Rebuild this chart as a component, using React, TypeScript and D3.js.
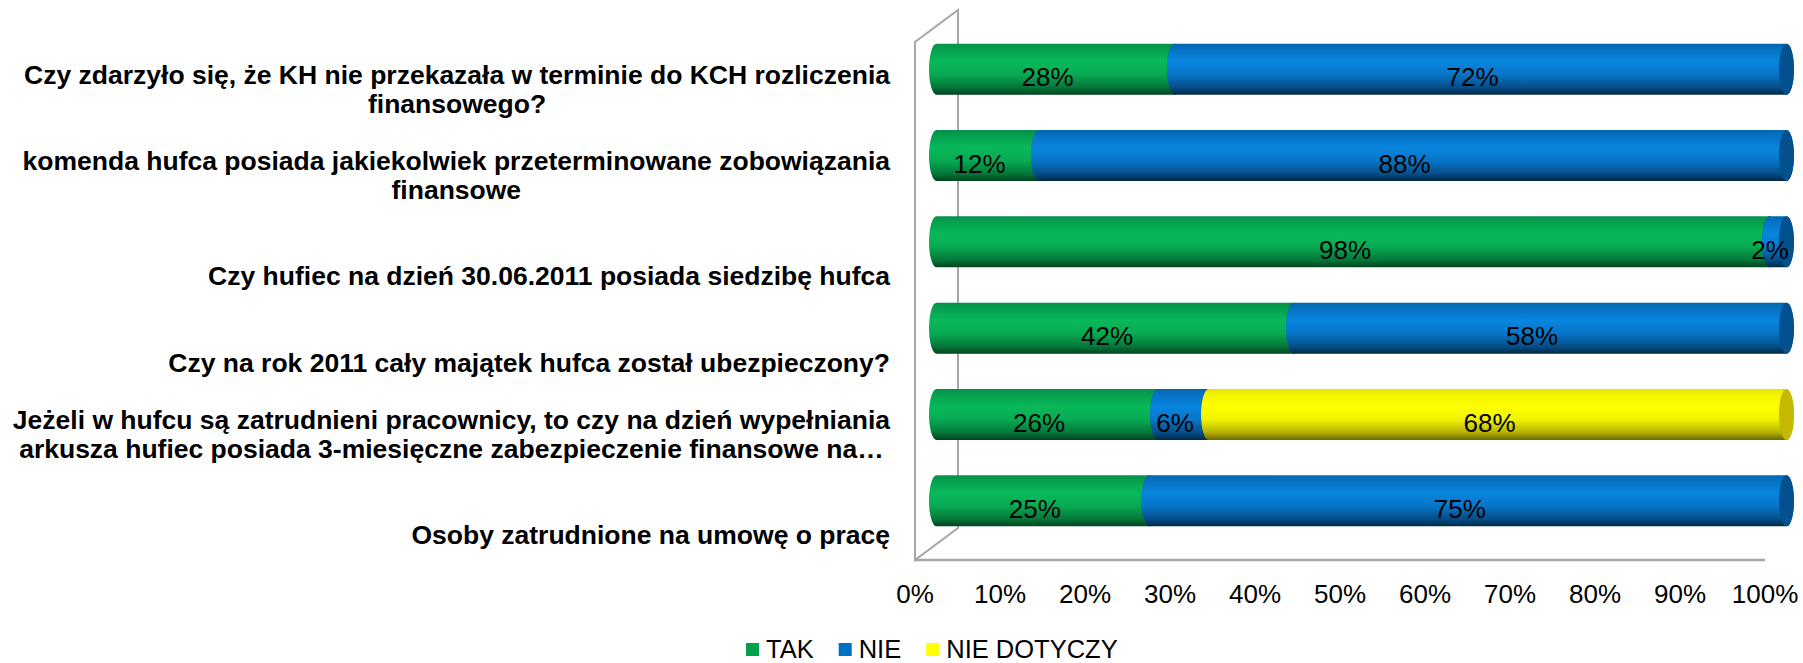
import React, { useEffect, useRef } from "react";
import * as d3 from "d3";

const categoryLines: string[][] = [
  ["Czy zdarzyło się, że KH nie przekazała w terminie do KCH rozliczenia", "finansowego?"],
  ["komenda hufca posiada jakiekolwiek przeterminowane zobowiązania", "finansowe"],
  ["Czy hufiec na dzień 30.06.2011 posiada siedzibę hufca"],
  ["Czy na rok 2011 cały majątek hufca został ubezpieczony?"],
  ["Jeżeli w hufcu są zatrudnieni pracownicy, to czy na dzień wypełniania", "arkusza hufiec posiada 3-miesięczne zabezpieczenie finansowe na…"],
  ["Osoby zatrudnione na umowę o pracę"],
];

const seriesNames = ["TAK", "NIE", "NIE DOTYCZY"];
const takValues = [28, 12, 98, 42, 26, 25];
const nieValues = [72, 88, 2, 58, 6, 75];
const nieDotyczyValues = [0, 0, 0, 0, 68, 0];
const tickValues = [0, 10, 20, 30, 40, 50, 60, 70, 80, 90, 100];
const tickLabels = ["0%", "10%", "20%", "30%", "40%", "50%", "60%", "70%", "80%", "90%", "100%"];

const seriesValues = [takValues, nieValues, nieDotyczyValues];
const legendColors = ["#00a04c", "#0070c0", "#ffff00"];
const gradStops = [
  [["0", "#05904a"], ["0.12", "#06a04f"], ["0.35", "#08b95a"], ["0.6", "#07aa53"], ["0.85", "#04783a"], ["1", "#01441f"]],
  [["0", "#0565ae"], ["0.12", "#0673c4"], ["0.35", "#0885de"], ["0.6", "#0776c8"], ["0.85", "#044f8a"], ["1", "#012946"]],
  [["0", "#e4e400"], ["0.12", "#f4f400"], ["0.35", "#ffff00"], ["0.6", "#f2f200"], ["0.85", "#b5b200"], ["1", "#6a6700"]],
];
const capColors = ["#05803f", "#03508e", "#c4b800"];

const FONT = "'Liberation Sans', Arial, sans-serif";

export default function App() {
  const ref = useRef<SVGSVGElement>(null);

  useEffect(() => {
    const svg = d3.select(ref.current);
    svg.selectAll("*").remove();

    const front = { left: 915, right: 1765, top: 42, bottom: 560 };
    const depth = { dx: 43, dy: -32 };
    const n = categoryLines.length;

    const x = d3.scaleLinear().domain([0, 100]).range([front.left, front.right]);
    const y = d3
      .scaleBand<number>()
      .domain(d3.range(n))
      .range([front.top, front.bottom])
      .paddingInner(0.409)
      .paddingOuter(0.2045);
    const bh = y.bandwidth();
    const rx = 7.5;

    const defs = svg.append("defs");
    gradStops.forEach((stops, s) => {
      const g = defs
        .append("linearGradient")
        .attr("id", `grad-${s}`)
        .attr("x1", 0)
        .attr("y1", 0)
        .attr("x2", 0)
        .attr("y2", 1);
      stops.forEach(([o, c]) => g.append("stop").attr("offset", o).attr("stop-color", c));
    });

    // walls
    const wallColor = "#a6a6a6";
    svg
      .append("path")
      .attr(
        "d",
        `M${front.left},${front.bottom} L${front.left},${front.top} L${front.left + depth.dx},${front.top + depth.dy} L${front.left + depth.dx},${front.bottom + depth.dy} Z`
      )
      .attr("fill", "none")
      .attr("stroke", wallColor)
      .attr("stroke-width", 2);
    svg
      .append("line")
      .attr("x1", front.left)
      .attr("x2", front.right)
      .attr("y1", front.bottom)
      .attr("y2", front.bottom)
      .attr("stroke", wallColor)
      .attr("stroke-width", 2.5);

    // bars
    const barCenters: number[] = [];
    for (let i = 0; i < n; i++) {
      const cy = (y(i) as number) + bh / 2 + depth.dy / 2;
      barCenters.push(cy);
      const top = cy - bh / 2;
      const bot = cy + bh / 2;
      const g = svg.append("g");
      let cum = 0;
      const labels: { x: number; t: string }[] = [];
      seriesValues.forEach((vals, s) => {
        const v = vals[i];
        if (v <= 0) return;
        const x0 = x(cum) + depth.dx / 2;
        const x1 = x(cum + v) + depth.dx / 2;
        cum += v;
        g.append("path")
          .attr(
            "d",
            `M${x0},${top} L${x1},${top} A${rx},${bh / 2} 0 0 1 ${x1},${bot} L${x0},${bot} A${rx},${bh / 2} 0 0 1 ${x0},${top} Z`
          )
          .attr("fill", `url(#grad-${s})`);
        g.append("ellipse")
          .attr("cx", x1)
          .attr("cy", cy)
          .attr("rx", rx)
          .attr("ry", bh / 2)
          .attr("fill", capColors[s]);
        labels.push({ x: (x0 + x1) / 2 - 8, t: `${v}%` });
      });
      labels.forEach((l) => {
        g.append("text")
          .attr("x", l.x)
          .attr("y", cy + 17)
          .attr("text-anchor", "middle")
          .attr("font-family", FONT)
          .attr("font-size", 26)
          .attr("fill", "#000")
          .text(l.t);
      });
    }

    // x ticks
    svg
      .append("g")
      .selectAll("text")
      .data(tickValues)
      .join("text")
      .attr("x", (d) => x(d))
      .attr("y", 603)
      .attr("text-anchor", "middle")
      .attr("font-family", FONT)
      .attr("font-size", 26)
      .attr("fill", "#000")
      .text((d, k) => tickLabels[k]);

    // category labels
    const labelRight = 890;
    const lineH = 29;
    categoryLines.forEach((lines, i) => {
      const g = svg.append("g");
      const texts = lines.map((ln) =>
        g
          .append("text")
          .attr("font-family", FONT)
          .attr("font-size", 26.5)
          .attr("font-weight", "bold")
          .attr("fill", "#000")
          .attr("text-anchor", "middle")
          .text(ln)
      );
      const widths = texts.map((t) => (t.node() as SVGTextElement).getComputedTextLength());
      const maxW = d3.max(widths) || 0;
      const cx = labelRight - maxW / 2;
      const lastBase = barCenters[i] + 43.5;
      texts.forEach((t, k) => {
        t.attr("x", cx).attr("y", lastBase - (lines.length - 1 - k) * lineH);
      });
    });

    // legend
    let lx = 746;
    const lg = svg.append("g");
    seriesNames.forEach((name, s) => {
      lg.append("rect")
        .attr("x", lx)
        .attr("y", 643)
        .attr("width", 13)
        .attr("height", 13)
        .attr("fill", legendColors[s]);
      const t = lg
        .append("text")
        .attr("x", lx + 20)
        .attr("y", 657.5)
        .attr("font-family", FONT)
        .attr("font-size", 25.5)
        .attr("fill", "#000")
        .text(name);
      const w = (t.node() as SVGTextElement).getComputedTextLength();
      lx = lx + 20 + w + 25;
    });
  }, []);

  return (
    <svg
      ref={ref}
      width={1803}
      height={663}
      style={{ position: "absolute", left: 0, top: 0, background: "#fff", display: "block" }}
    />
  );
}
